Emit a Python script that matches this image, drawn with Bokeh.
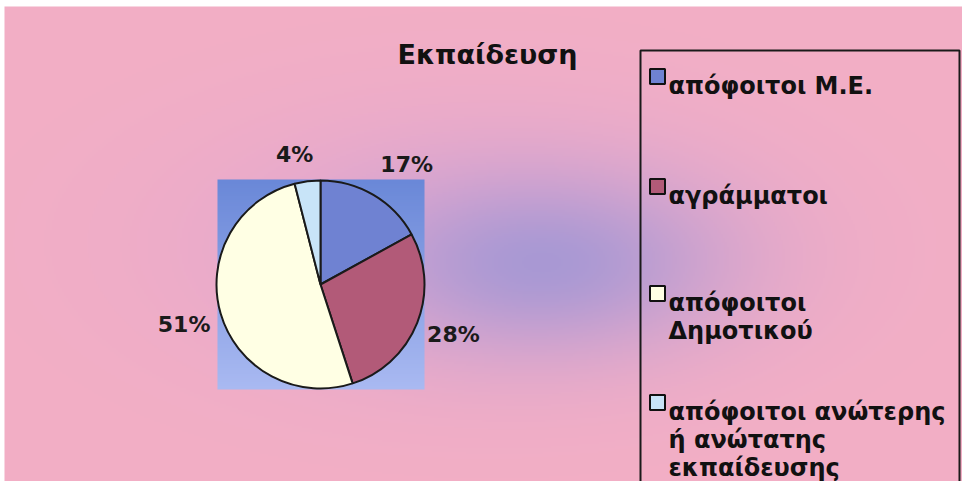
import numpy as np
from bokeh.plotting import figure
from bokeh.models import Range1d
from bokeh.core.properties import value
from bokeh.embed import file_html
from bokeh.resources import INLINE

# ---------------- data ----------------
title_text = "Εκπαίδευση"
categories = ["απόφοιτοι Μ.Ε.", "αγράμματοι", "απόφοιτοι Δημοτικού",
              "απόφοιτοι ανώτερης ή ανώτατης εκπαίδευσης"]
legend_lines = [["απόφοιτοι Μ.Ε."],
                ["αγράμματοι"],
                ["απόφοιτοι", "Δημοτικού"],
                ["απόφοιτοι ανώτερης", "ή ανώτατης", "εκπαίδευσης"]]
shares = [17, 28, 51, 4]
pct_labels = ["17%", "28%", "51%", "4%"]
colors = ["#6F82D2", "#B25A78", "#FFFFE4", "#C8E4F8"]

# ---------------- layout helpers (page pixel coords; figure sits at 8,8) ----------------
W, H = 962, 481
def Y(py):
    return 489 - py

p = figure(width=W, height=H, output_backend="svg", toolbar_location=None,
           x_range=Range1d(8, 970), y_range=Range1d(0, 481),
           x_axis_type=None, y_axis_type=None, min_border=0)
p.outline_line_color = None
p.grid.visible = False
p.background_fill_color = "white"
p.border_fill_color = "white"

# ---------------- background gradient ----------------
def rgba_img(R, G, B):
    h, w = R.shape
    img = np.empty((h, w), dtype=np.uint32)
    v = img.view(dtype=np.uint8).reshape((h, w, 4))
    v[..., 0] = np.clip(R, 0, 255)
    v[..., 1] = np.clip(G, 0, 255)
    v[..., 2] = np.clip(B, 0, 255)
    v[..., 3] = 255
    return img

x0, x1, py0, py1 = 12, 970, 14, 489
xs = np.arange(x0, x1, 2) + 1.0
ysY = np.arange(Y(py1), Y(py0), 2) + 1.0
XX, YY = np.meshgrid(xs, ysY)
PY = 489 - YY
pink = np.array([243, 175, 197.0])
lav = np.array([224, 166, 210.0])
purp = np.array([166, 152, 212.0])
w2 = 0.8 * np.exp(-((XX - 480) / 300) ** 2 - ((PY - 250) / 140) ** 2)
w1 = 0.95 * np.exp(-((XX - 550) / 170) ** 2 - ((PY - 270) / 85) ** 2)
col = [pink[i] * (1 - w2) + lav[i] * w2 for i in range(3)]
col = [col[i] * (1 - w1) + purp[i] * w1 for i in range(3)]
p.image_rgba(image=[rgba_img(*col)], x=x0, y=Y(py1), dw=x1 - x0, dh=py1 - py0)

# ---------------- pie backdrop square ----------------
sx0, sx1, sy0, sy1 = 225, 432, 187, 397
bx = np.arange(sx0, sx1, 2) + 1.0
byY = np.arange(Y(sy1), Y(sy0), 2) + 1.0
BX, BY = np.meshgrid(bx, byY)
t = ((489 - BY) - sy0) / (sy1 - sy0)
top = np.array([106, 136, 216.0])
bot = np.array([170, 186, 242.0])
bcol = [top[i] * (1 - t) + bot[i] * t for i in range(3)]
p.image_rgba(image=[rgba_img(*bcol)], x=sx0, y=Y(sy1), dw=sx1 - sx0, dh=sy1 - sy0)

# ---------------- pie ----------------
cx, cy, r = 328, Y(292), 104
vals = np.array(shares, dtype=float)
frac = vals / vals.sum()
cum = np.concatenate([[0], np.cumsum(frac)[:-1]])
start_deg = 90 - (cum + frac) * 360
end_deg = 90 - cum * 360
p.wedge(x=cx, y=cy, radius=r,
        start_angle=np.radians(start_deg), end_angle=np.radians(end_deg),
        fill_color=colors, line_color="#1a1a1a", line_width=2)

# label placement: radial distance and small angular nudge per label
label_dist = np.array([148, 142, 142, 133])
label_nudge = np.array([-5, 1, 0, 4])
mid = np.radians((start_deg + end_deg) / 2 + label_nudge)
p.text(x=cx + label_dist * np.cos(mid), y=cy + label_dist * np.sin(mid), text=pct_labels,
       text_font=value("DejaVu Sans"), text_font_style="bold",
       text_font_size="22px", text_color="#1a1a1a",
       text_align="center", text_baseline="middle")

# ---------------- title ----------------
p.text(x=[495], y=[Y(62)], text=[title_text],
       text_font=value("DejaVu Sans"), text_font_style="bold",
       text_font_size="27px", text_color="#111111",
       text_align="center", text_baseline="alphabetic")

# ---------------- legend ----------------
p.quad(left=[648], right=[967], top=[Y(58)], bottom=[Y(530)],
       fill_color=None, line_color="#1a1a1a", line_width=2)

first_baselines = [93, 203, 310, 419]
line_gap = 28
tx, ty = [], []
for lines, b in zip(legend_lines, first_baselines):
    for k, ln in enumerate(lines):
        tx.append(ln)
        ty.append(Y(b + k * line_gap))
p.text(x=[676] * len(tx), y=ty, text=tx,
       text_font=value("DejaVu Sans"), text_font_style="bold",
       text_font_size="24px", text_color="#111111",
       text_align="left", text_baseline="alphabetic")

sq = 15
p.rect(x=[665] * len(categories), y=[Y(b - 9) for b in first_baselines],
       width=sq, height=sq, fill_color=colors, line_color="#111111", line_width=2)

open("out.html", "w").write(file_html(p, INLINE))
